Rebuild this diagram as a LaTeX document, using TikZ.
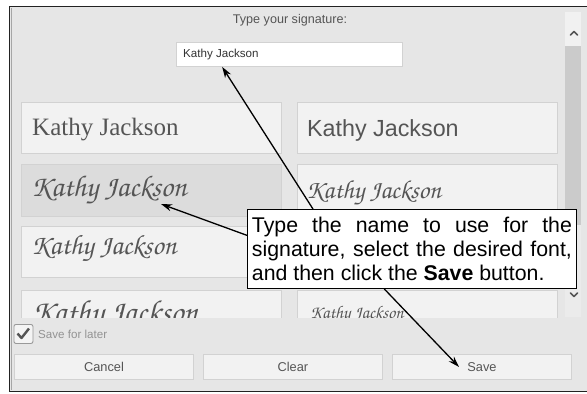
\documentclass[tikz,border=0pt]{standalone}
\usepackage{fontspec}
\setmainfont{Liberation Sans}
\newfontfamily\sigserif{Liberation Serif}
\newfontfamily\sigscript{texgyrechorus-mediumitalic.otf}
\usetikzlibrary{arrows.meta,calc}

\definecolor{dlgbg}{HTML}{E6E6E6}
\definecolor{frame}{HTML}{222222}
\definecolor{boxfill}{HTML}{F2F2F2}
\definecolor{boxedge}{HTML}{D2D2D2}
\definecolor{selfill}{HTML}{DCDCDC}
\definecolor{uitext}{HTML}{555555}
\definecolor{thumb}{HTML}{CBCBCB}
\definecolor{track}{HTML}{EBEBEB}
\definecolor{btnarea}{HTML}{F1F1F1}
\definecolor{chkfill}{HTML}{F4F4F4}

\tikzset{
  sigbox/.style={draw=boxedge, fill=boxfill, line width=0.9pt, anchor=north west,
                 minimum width=260pt, inner sep=0pt},
  sigtext/.style={anchor=base west, inner sep=0pt, text=uitext},
  uibtn/.style={draw=boxedge, fill=boxfill, line width=0.9pt, anchor=north west,
                minimum width=179pt, minimum height=25pt, inner sep=0pt,
                text=uitext, font=\fontsize{12.8}{14}\selectfont},
  callout/.style={draw=black, fill=white, line width=0.9pt, anchor=north west,
                  text width=320pt, minimum height=79pt, inner xsep=4.5pt,
                  inner ysep=0pt, align=justify,
                  font=\fontsize{21.3}{23.6}\selectfont},
  pointer/.style={draw=black, line width=1.3pt,
                  -{Stealth[length=11pt,width=7pt]}},
  chevron/.style={draw=uitext, line width=1.6pt, line cap=round, line join=round}
}

\begin{document}
\begin{tikzpicture}[x=1pt,y=-1pt]
\useasboundingbox (0,0) rectangle (587,394);
\fill[white] (0,0) rectangle (587,394);

% dialog body and frame
\fill[dlgbg] (9.5,6.5) rectangle (595,391.5);
\draw[frame, line width=1.5pt] (595,6.5) -- (9.5,6.5) -- (9.5,391.5) -- (595,391.5);
\draw[color=gray!70, line width=0.8pt] (11.2,8) -- (11.2,390);

% heading and name field
\node[text=uitext, font=\fontsize{12.6}{14}\selectfont] (head) at (290,20) {Type your signature:};
\node[draw=boxedge, fill=white, line width=0.9pt, anchor=north west,
      minimum width=226pt, minimum height=24pt, inner sep=0pt] (field) at (176,42) {};
\node[anchor=west, inner sep=0pt, text=black!80, font=\fontsize{11.6}{13}\selectfont]
      (fieldtext) at (183,54) {Kathy Jackson};

% list of signature styles, clipped at the bottom of the list area
\begin{scope}
\clip (12,10) rectangle (587,317);
\node[sigbox, minimum height=51pt] (s11) at (21,102) {};
\node[sigbox, minimum height=51pt] (s12) at (297,102) {};
\node[sigbox, minimum height=52pt, fill=selfill] (s21) at (21,164) {};
\node[sigbox, minimum height=52pt] (s22) at (297,164) {};
\node[sigbox, minimum height=51pt] (s31) at (21,226) {};
\node[sigbox, minimum height=51pt] (s32) at (297,226) {};
\node[sigbox, minimum height=51pt] (s41) at (21,290) {};
\node[sigbox, minimum height=51pt] (s42) at (297,290) {};

\node[sigtext, font=\sigserif\fontsize{25}{28}\selectfont] (t11) at (32,135) {Kathy Jackson};
\node[sigtext, font=\fontsize{23.3}{26}\selectfont] (t12) at (307,136) {Kathy Jackson};
\node[sigtext, font=\sigscript\fontsize{30}{32}\selectfont] (t21) at (31,196) {Kathy Jackson};
\node[sigtext, font=\sigscript\fontsize{26}{30}\selectfont] (t22) at (306,198) {Kathy Jackson};
\node[sigtext, font=\sigscript\fontsize{28}{30}\selectfont] (t31) at (31,254) {Kathy Jackson};
\node[sigtext, font=\sigscript\fontsize{32}{34}\selectfont] (t41) at (32,322) {Kathy Jackson};
\node[sigtext, font=\sigscript\fontsize{18}{20}\selectfont] (t42) at (310,318) {Kathy Jackson};

% scroll bar
\fill[track] (565,12) rectangle (581,317);
\fill[btnarea] (565,12) rectangle (581,46);
\fill[thumb] (565,46) rectangle (581,225);
\end{scope}
\draw[chevron] (570.5,35) -- (574,31.5) -- (577.5,35);
\draw[chevron] (570.5,293) -- (574,296.5) -- (577.5,293);

% save-for-later check box
\node[draw=gray!80, fill=chkfill, rounded corners=2pt, line width=0.9pt,
      anchor=north west, minimum width=19pt, minimum height=19pt, inner sep=0pt]
      (chk) at (13.5,324) {};
\draw[uitext, line width=2.4pt, line join=round] (17.5,333.5) -- (21.5,338) -- (29,328.5);
\node[anchor=west, inner sep=0pt, text=gray!85, font=\fontsize{11.6}{13}\selectfont]
      (chktext) at (38,334) {Save for later};

% buttons
\node[uibtn] (cancel) at (14,354) {Cancel};
\node[uibtn] (clear) at (203,354) {Clear};
\node[uibtn] (save) at (392,354) {Save};

% callout and its pointers
\node[callout] (call) at (247,209)
  {Type the name to use for the\linebreak signature, select the desired font,\linebreak and then click the \textbf{Save} button.};

\coordinate (fieldtip) at ($(field.south west)!0.2035!(field.south east)$);
\coordinate (sigtip) at (161,204);
\coordinate (savetip) at ($(save.west)+(67,0)$);

\draw[pointer] ($(call.north west)!0.2!(call.north east)$) -- (fieldtip);
\draw[pointer] ($(call.north west)!0.33!(call.south west)$) -- (sigtip);
\draw[pointer] ($(call.south west)!0.416!(call.south east)$) -- (savetip);
\end{tikzpicture}
\end{document}
